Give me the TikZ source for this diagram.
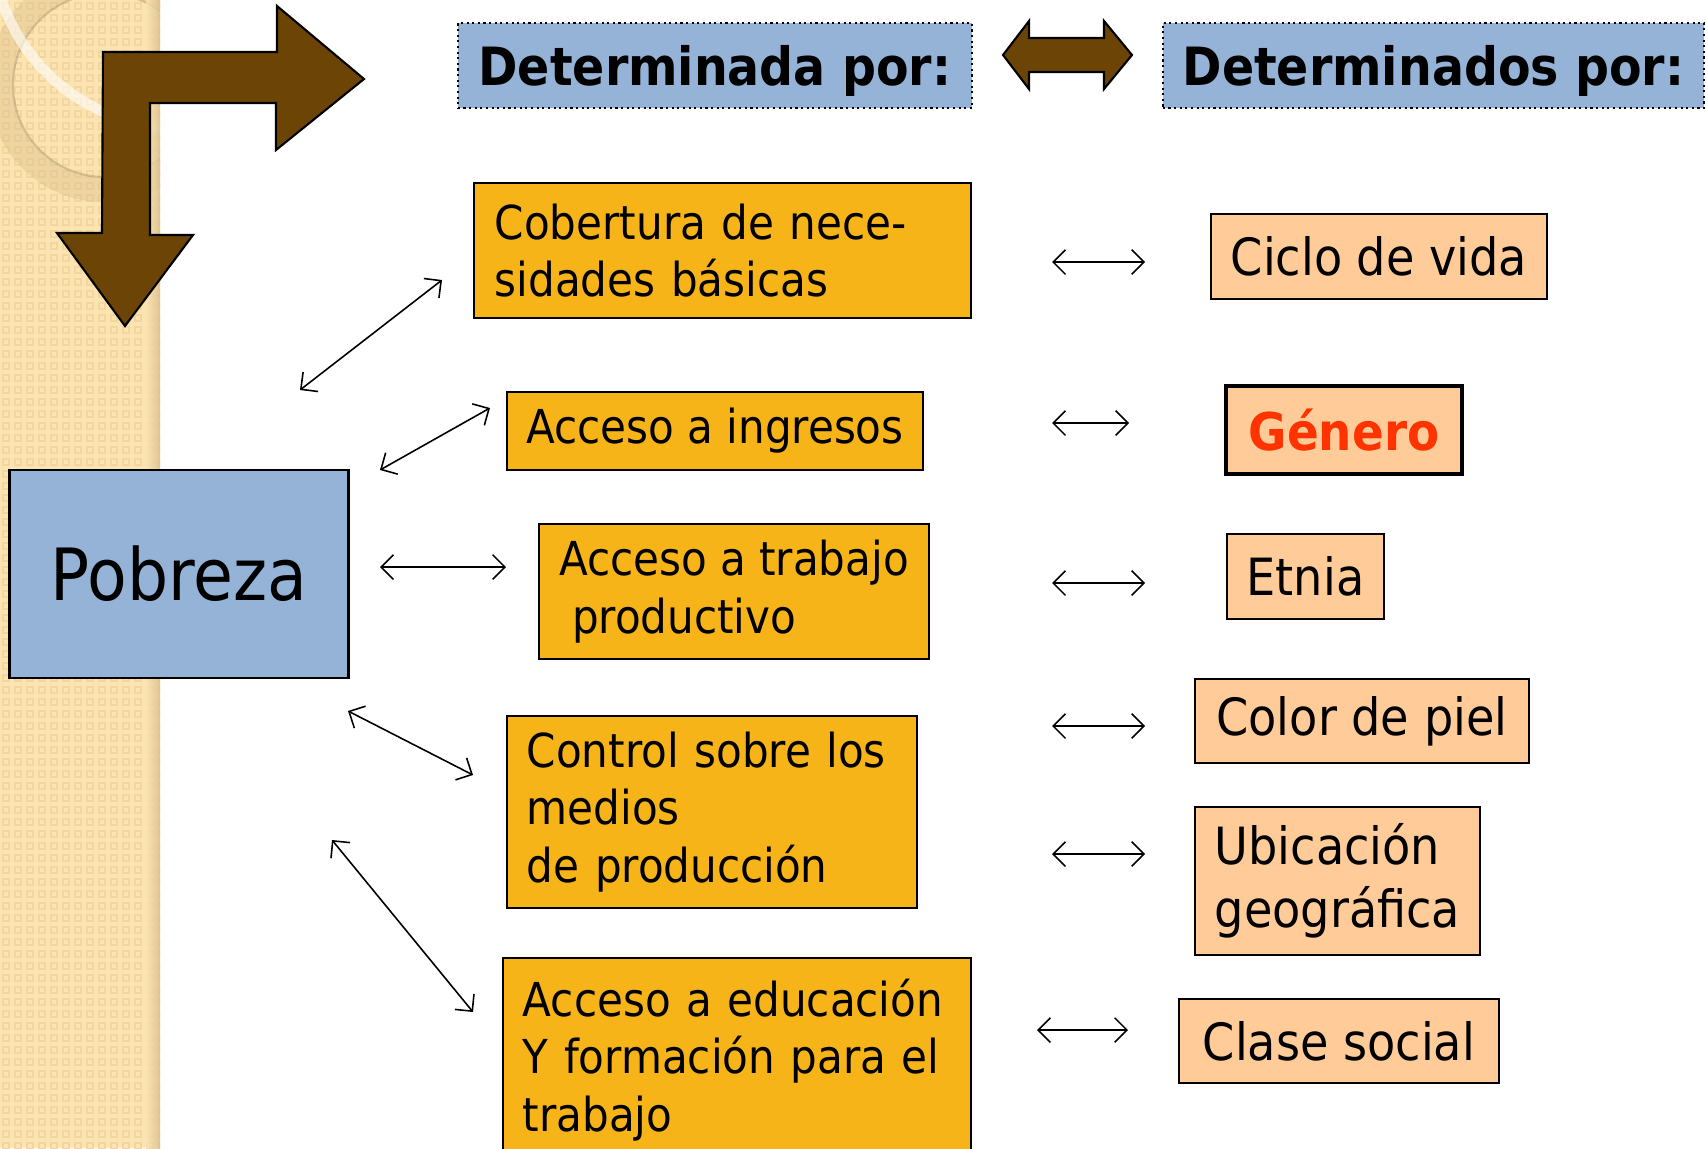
\documentclass[tikz,border=0pt]{standalone}
\usepackage{fontspec}
\setmainfont{DejaVu Sans Condensed}
\usetikzlibrary{arrows.meta}
\definecolor{stripbg}{HTML}{FBE4B2}
\definecolor{stripdot}{HTML}{F2D69E}
\definecolor{stripedge}{HTML}{D8BE8C}
\definecolor{ringtan}{HTML}{E0C28C}
\definecolor{headblue}{HTML}{95B3D7}
\definecolor{factorfill}{HTML}{F6B418}
\definecolor{peach}{HTML}{FFCC99}
\definecolor{arrowbrown}{HTML}{6C4506}
\definecolor{genred}{HTML}{FF3300}
\tikzset{
	header/.style = {draw = black, densely dotted, line width = 0.6pt, fill = headblue, minimum height = 0.85cm, text depth = 0pt, font = \fontsize{15}{18}\selectfont\bfseries},
	factor/.style = {draw = black, line width = 0.6pt, fill = factorfill, align = left, font = \fontsize{13.3}{16.3}\selectfont},
	group/.style = {draw = black, line width = 0.6pt, fill = peach, align = left, font = \fontsize{14.6}{17.9}\selectfont},
	link/.style = {{Straight Barb[length = 3.5pt, width = 7pt]}-{Straight Barb[length = 3.5pt, width = 7pt]}, line width = 0.45pt},
	bigarrow/.style = {draw = black, line width = 0.6pt, fill = arrowbrown, line join = miter}
}
\begin{document}
\begin{tikzpicture}[x = 0.01cm, y = -0.01cm]
		\useasboundingbox (0, 0) rectangle (1706, 1148);
		\clip (0, 0) rectangle (1706, 1148);
		\begin{scope}
		\clip (0, 0) rectangle (160, 1148);
		\fill[stripbg] (0, 0) rectangle (160, 1148);
		\foreach \i in {0, ..., 13}{
			\foreach \j in {0, ..., 96}{
				\fill[stripdot] (\i * 12 + 2, \j * 12 + 2) rectangle ++(8, 8);
				\fill[stripbg] (\i * 12 + 4, \j * 12 + 4) rectangle ++(4, 4);}}
		\draw[ringtan, line width = 7pt, opacity = 0.45] (105, 85) circle (1.05cm);
		\draw[ringtan!70!black, line width = 0.6pt, opacity = 0.4] (105, 85) circle (0.92cm);
		\draw[white, line width = 3pt, opacity = 0.6] (180, -60) circle (1.88cm);
		\shade[left color = stripbg, right color = stripedge, opacity = 0.8] (146, 0) rectangle (160, 1148);
		\end{scope}
		\draw[bigarrow] (103, 52) -- (277, 52) -- (277, 6) -- (364, 79) -- (276, 150) -- (276, 103) -- (150, 103) -- (150, 235) -- (193, 235) -- (125, 326) -- (57, 233) -- (102, 233) -- cycle;
		\draw[bigarrow] (1003, 55) -- (1029, 21) -- (1029, 38) -- (1104, 38) -- (1104, 21) -- (1132, 55) -- (1104, 89) -- (1104, 72) -- (1029, 72) -- (1029, 89) -- cycle;
		\node[header, minimum width = 5.14cm] (hdA) at (715, 65.5) {Determinada por:};
		\node[header, minimum width = 5.41cm] (hdB) at (1433.5, 65.5) {Determinados por:};
		\node[draw = black, line width = 0.8pt, fill = headblue, minimum width = 3.38cm, minimum height = 2.08cm, font = \fontsize{20.5}{24}\selectfont] (pob) at (179, 574) {Pobreza};
		\node[factor, minimum width = 4.97cm, text width = 4.55cm, minimum height = 1.35cm] (cob) at (722.5, 250.5) {Cobertura de nece-\\sidades básicas};
		\node[factor, minimum width = 4.16cm, minimum height = 0.78cm] (ing) at (715, 431) {Acceso a ingresos};
		\node[factor, minimum width = 3.90cm, minimum height = 1.35cm] (trab) at (734, 591.5) {Acceso a trabajo\\\hspace*{3.7pt}productivo};
		\node[factor, minimum width = 4.10cm, text width = 3.70cm, minimum height = 1.92cm] (ctrl) at (712, 812) {Control sobre los\\medios\\de producción};
		\node[factor, minimum width = 4.68cm, text width = 4.28cm, minimum height = 2.04cm, anchor = north] (edu) at (737, 957) {Acceso a educación\\Y formación para el\\trabajo};
		\node[group, minimum width = 3.36cm, minimum height = 0.85cm] (ciclo) at (1379, 256.5) {Ciclo de vida};
		\node[group, line width = 1.2pt, minimum width = 2.36cm, minimum height = 0.88cm, text = genred, font = \fontsize{14.8}{18}\selectfont\bfseries] (gen) at (1344, 430) {Género};
		\node[group, minimum width = 1.57cm, minimum height = 0.85cm] (etnia) at (1305.5, 576.5) {Etnia};
		\node[group, minimum width = 3.34cm, minimum height = 0.84cm] (color) at (1362, 721) {Color de piel};
		\node[group, minimum width = 2.85cm, minimum height = 1.48cm] (ubic) at (1337.5, 881) {Ubicación\\geográfica};
		\node[group, minimum width = 3.20cm, minimum height = 0.84cm] (clase) at (1339, 1041) {Clase social};
		\foreach \i/\xa/\ya/\xb/\yb in {1/300/390/442/280, 2/380/470/490/408, 3/380/567/506/567, 4/348/711/473/775, 5/332/840/473/1012}{
			\coordinate (l\i a) at (\xa, \ya);
			\coordinate (l\i b) at (\xb, \yb);
			\draw[link] (l\i a) -- (l\i b);}
		\foreach \i/\y/\xa/\xb in {1/262/1052/1145, 2/423/1052/1129, 3/583/1052/1145, 4/726/1052/1145, 5/854/1052/1145, 6/1030/1037/1128}{
			\coordinate (m\i a) at (\xa, \y);
			\coordinate (m\i b) at (\xb, \y);
			\draw[link] (m\i a) -- (m\i b);}
		\end{tikzpicture}
\end{document}
